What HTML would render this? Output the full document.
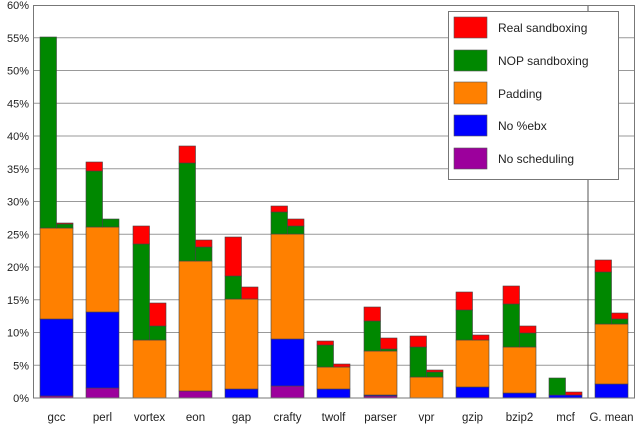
<!DOCTYPE html>
<html><head><meta charset="utf-8"><style>
html,body{margin:0;padding:0;background:#fff;width:640px;height:425px;overflow:hidden}
svg text{font-family:"Liberation Sans","DejaVu Sans",sans-serif;fill:#222}
</style></head><body>
<svg id="c" width="640" height="425" xmlns="http://www.w3.org/2000/svg">
<rect x="0" y="0" width="640" height="425" fill="#fff"/>
<g id="grid"></g>
<g id="bars"></g>
<line x1="588" y1="5" x2="588" y2="398" stroke="#555" stroke-width="1"/>
<rect x="33.5" y="5.5" width="601" height="392.5" fill="none" stroke="#777" stroke-width="1"/>
<g id="lab"></g>
<rect x="448.5" y="11.5" width="170" height="168" fill="#fff" stroke="#777"/>
<rect x="454" y="17" width="33" height="21" fill="#f00" stroke="#555" stroke-width="0.6"/>
<rect x="454" y="50" width="33" height="21" fill="#008800" stroke="#555" stroke-width="0.6"/>
<rect x="454" y="82" width="33" height="22" fill="#ff8000" stroke="#555" stroke-width="0.6"/>
<rect x="454" y="115" width="33" height="21" fill="#0000ff" stroke="#555" stroke-width="0.6"/>
<rect x="454" y="148" width="33" height="21" fill="#9c009c" stroke="#555" stroke-width="0.6"/>
<text x="498" y="32" font-size="12">Real sandboxing</text>
<text x="498" y="65" font-size="12">NOP sandboxing</text>
<text x="498" y="98" font-size="12">Padding</text>
<text x="498" y="130" font-size="12">No %ebx</text>
<text x="498" y="163" font-size="12">No scheduling</text>
</svg>
<script>
var NS="http://www.w3.org/2000/svg";
function el(p,t,a,txt){var e=document.createElementNS(NS,t);for(var k in a)e.setAttribute(k,a[k]);if(txt)e.textContent=txt;document.getElementById(p).appendChild(e);}
for(var i=0;i<=12;i++){var y=398-i*32.75;
 if(i>0&&i<12)el("grid","line",{x1:33,x2:635,y1:y,y2:y,stroke:"#999","stroke-width":1});
 el("lab","text",{x:29,y:y+4,"font-size":"11","text-anchor":"end"},(i*5)+"%");}
var C={r:"#f00",g:"#008800",o:"#ff8000",b:"#0000ff",p:"#9c009c"};
// name, x, purple top, blue top, orange top, Lgreen, Lred, Rgreen, Rred
var D=[["gcc",40,396,319,228,37,37,224,223],["perl",86,388,312,227,171,162,219,219],
["vortex",133,398,398,340,244,226,326,303],["eon",179,391,391,261,163,146,247,240],
["gap",225,398,389,299,276,237,299,287],["crafty",271,386,339,234,212,206,226,219],
["twolf",317,398,389,367,345,341,367,364],["parser",364,396,395,351,321,307,349,338],
["vpr",410,398,398,377,347,336,372,370],["gzip",456,398,387,340,310,292,340,335],
["bzip2",503,398,393,347,304,286,333,326],["mcf",549,398,395,395,378,378,395,392],
["G. mean",595,398,384,324,272,260,319,313]];
function R(x,w,t,b,c){if(b-t<=0.01)return;el("bars","rect",{x:x,y:t,width:w,height:b-t,fill:c,stroke:"#444","stroke-width":0.6});}
D.forEach(function(d){var x=d[1];
 R(x,33,d[2],398,C.p);R(x,33,d[3],d[2],C.b);R(x,33,d[4],d[3],C.o);
 R(x,16.5,d[5],d[4],C.g);R(x,16.5,d[6],d[5],C.r);
 R(x+16.5,16.5,d[7],d[4],C.g);R(x+16.5,16.5,d[8],d[7],C.r);
 el("lab","text",{x:x+16.5,y:421,"font-size":"11.5","text-anchor":"middle"},d[0]);});
</script>
</body></html>
